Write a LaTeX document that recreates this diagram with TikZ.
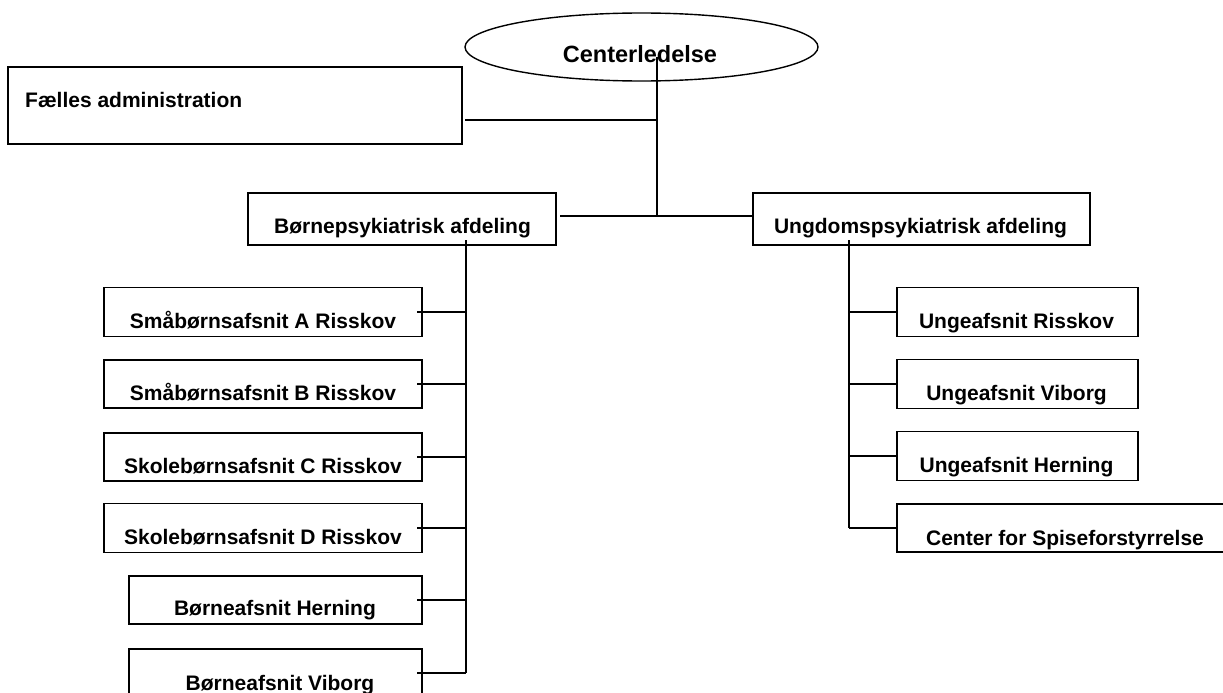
\documentclass[tikz,border=0pt]{standalone}
\usepackage{fontspec}
\setmainfont{Liberation Sans}
\usetikzlibrary{shapes.geometric}
\tikzset{
  box/.style={draw, line width=1.6pt, rectangle, inner sep=0pt, outer sep=0pt},
  oval/.style={draw, line width=1.4pt, ellipse, inner sep=0pt, outer sep=0pt},
  txt/.style={anchor=base, inner sep=0pt, font=\bfseries\fontsize{21}{21}\selectfont},
  link/.style={line width=1.8pt}
}
\begin{document}
\begin{tikzpicture}[x=1pt,y=-1pt]
\useasboundingbox (0,0) rectangle (1223,693);
\clip (0,0) rectangle (1223,693);
% top
\node[oval, minimum width=353pt, minimum height=68pt] (ce) at (641.5,47) {};
\node[txt, font=\bfseries\fontsize{23.5}{23.5}\selectfont] (cet) at (640,63) {Centerledelse};
\node[box, minimum width=454pt, minimum height=77pt] (fa) at (235,105.5) {};
\node[txt, anchor=base west] (fat) at (25,107) {Fælles administration};
\node[box, minimum width=308pt, minimum height=52pt] (bp) at (402,219) {};
\node[txt] (bpt) at (402.5,233) {Børnepsykiatrisk afdeling};
\node[box, minimum width=337pt, minimum height=52pt] (up) at (921.5,219) {};
\node[txt] (upt) at (920.5,233) {Ungdomspsykiatrisk afdeling};
% left children
\node[box, minimum width=318pt, minimum height=49pt] (a1) at (263,312) {};
\node[txt] at (263,328) {Småbørnsafsnit A Risskov};
\node[box, minimum width=318pt, minimum height=48pt] (a2) at (263,384) {};
\node[txt] at (263,400) {Småbørnsafsnit B Risskov};
\node[box, minimum width=318pt, minimum height=48pt] (a3) at (263,457) {};
\node[txt] at (263,473) {Skolebørnsafsnit C Risskov};
\node[box, minimum width=318pt, minimum height=49pt] (a4) at (263,528) {};
\node[txt] at (263,544) {Skolebørnsafsnit D Risskov};
\node[box, minimum width=293pt, minimum height=48pt] (a5) at (275.5,600) {};
\node[txt] at (275,615) {Børneafsnit Herning};
\node[box, minimum width=293pt, minimum height=48pt] (a6) at (275.5,673) {};
\node[txt] at (280,690) {Børneafsnit Viborg};
% right children
\node[box, minimum width=241pt, minimum height=49pt] (r1) at (1017.5,312) {};
\node[txt] at (1016.5,328) {Ungeafsnit Risskov};
\node[box, minimum width=241pt, minimum height=49pt] (r2) at (1017.5,384) {};
\node[txt] at (1016.5,400) {Ungeafsnit Viborg};
\node[box, minimum width=241pt, minimum height=49pt] (r3) at (1017.5,456) {};
\node[txt] at (1016.5,472) {Ungeafsnit Herning};
\node[box, minimum width=343pt, minimum height=48pt] (r4) at (1068.5,528) {};
\node[txt] at (1065,545) {Center for Spiseforstyrrelse};
% connectors
\coordinate (t1) at ([xshift=15.5pt,yshift=-10pt]ce.center);
\coordinate (hj) at ([yshift=3pt]bp.east);
\draw[link] (t1) -- (t1 |- hj);
\draw[link] ([xshift=3pt,yshift=-14.5pt]fa.east) -- ([yshift=-14.5pt]fa.east -| t1);
\draw[link] ([xshift=4pt]hj) -- ([yshift=3pt]up.west);
\coordinate (lv) at ([xshift=64pt,yshift=-21pt]bp.center);
\draw[link] (lv) -- (lv |- a6.east);
\foreach \n in {a1,a2,a3,a4,a5,a6}
  \draw[link] ([xshift=-5pt]\n.east) -- (\n.east -| lv);
\coordinate (rv) at ([xshift=-72.5pt,yshift=-21pt]up.center);
\draw[link] (rv) -- (rv |- r4.west);
\foreach \n in {r1,r2,r3,r4}
  \draw[link] (\n.west) -- (\n.west -| rv);
\end{tikzpicture}
\end{document}
